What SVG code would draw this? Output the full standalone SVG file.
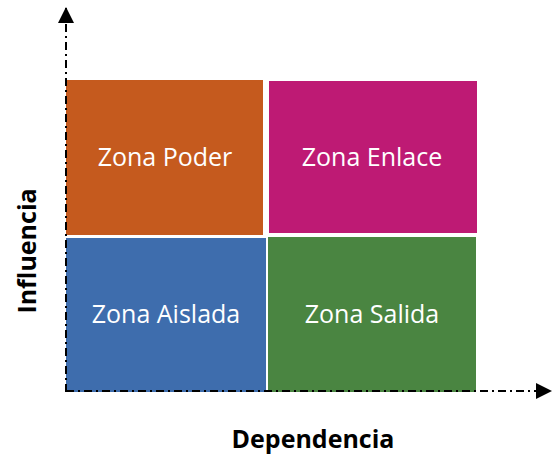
<svg xmlns="http://www.w3.org/2000/svg" width="552" height="457" viewBox="0 0 552 457">
<style>
.zone text{font-family:"Open Sans","Noto Sans",sans-serif;font-size:25px;fill:#fff;text-anchor:middle}
.axis{stroke:#000;stroke-width:2;fill:none;stroke-dasharray:8,4,2,4}
.lbl{font-family:"Open Sans","Noto Sans",sans-serif;font-weight:bold;font-size:25px;fill:#000;text-anchor:middle}
</style>
<defs>
<marker id="ah" markerWidth="16" markerHeight="16" refX="15" refY="8" orient="auto" markerUnits="userSpaceOnUse">
<path d="M0,0 L16,8 L0,16 Z" fill="#000"/>
</marker>
</defs>
<rect width="552" height="457" fill="#fff"/>
<g id="zona-poder" class="zone">
<rect x="66" y="80" width="197" height="155" fill="#C55A1E"/>
<text x="165" y="166">Zona Poder</text>
</g>
<g id="zona-enlace" class="zone">
<rect x="269" y="81" width="208" height="152" fill="#BE1A74"/>
<text x="372" y="166">Zona Enlace</text>
</g>
<g id="zona-aislada" class="zone">
<rect x="66" y="238" width="200" height="154" fill="#3E6DAD"/>
<text x="166" y="323">Zona Aislada</text>
</g>
<g id="zona-salida" class="zone">
<rect x="268" y="237" width="208" height="155" fill="#4A8541"/>
<text x="372" y="323">Zona Salida</text>
</g>
<g id="connectors">
<path class="axis" d="M66,392 L66,8" marker-end="url(#ah)"/>
<path class="axis" d="M66,391 L551,391" marker-end="url(#ah)"/>
</g>
<text class="lbl" x="313" y="448">Dependencia</text>
<text class="lbl" transform="translate(36,251) rotate(-90)">Influencia</text>
</svg>
